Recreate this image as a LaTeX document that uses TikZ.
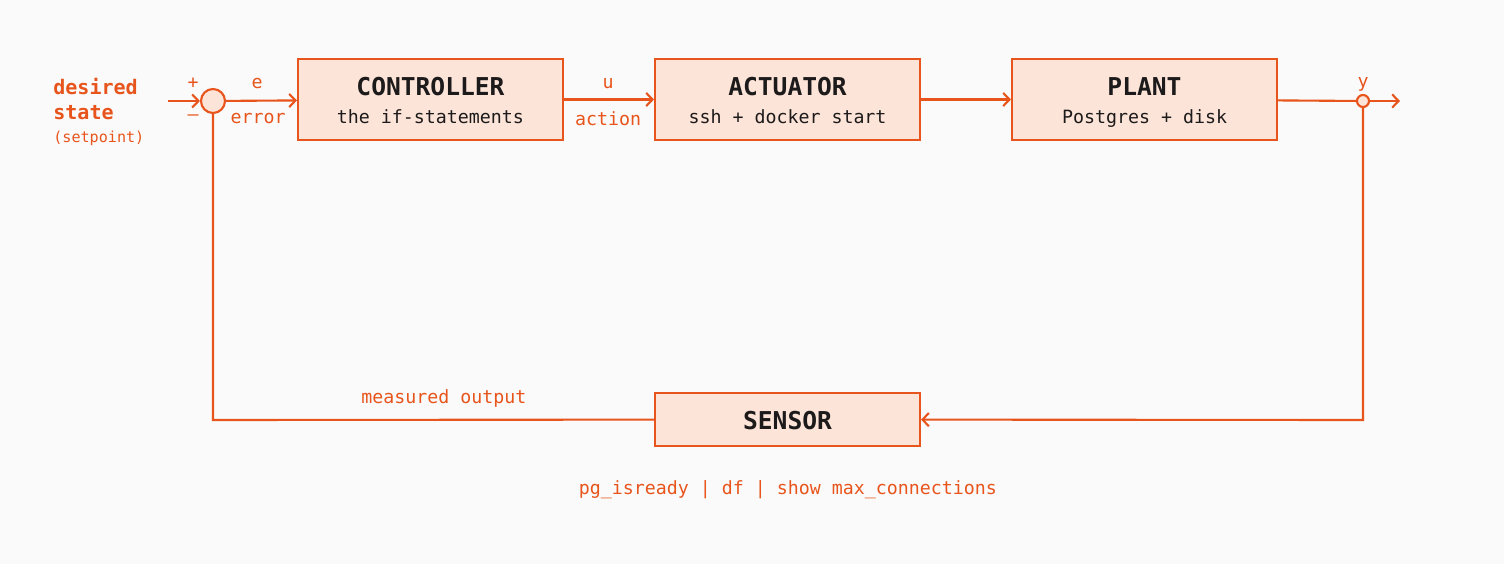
\documentclass[tikz,border=0pt]{standalone}
\usepackage{fontspec}
\setmonofont{DejaVu Sans Mono}
\usetikzlibrary{arrows.meta}
\definecolor{loop}{RGB}{232,85,28}
\definecolor{peach}{RGB}{253,228,216}
\definecolor{ink}{RGB}{28,26,26}
\definecolor{paper}{RGB}{250,250,250}
\begin{document}
\begin{tikzpicture}[x=0.02cm,y=-0.02cm,font=\ttfamily]
\tikzstyle{block}=[rectangle,draw=loop,fill=peach,line width=1.2pt,minimum width=5.3cm,minimum height=1.62cm,inner sep=0pt]
\tikzstyle{title}=[text=ink,anchor=base,inner sep=0pt,font=\ttfamily\bfseries\fontsize{14}{16}\selectfont]
\tikzstyle{sub}=[text=ink,anchor=base,inner sep=0pt,font=\ttfamily\fontsize{10.4}{12}\selectfont]
\tikzstyle{sig}=[draw=loop,line width=1.2pt,-{Straight Barb[length=3.6pt,width=7.5pt,line width=1.2pt]}]
\tikzstyle{wire}=[draw=loop,line width=1.2pt]
\tikzstyle{lbl}=[text=loop,font=\ttfamily\fontsize{10.4}{12}\selectfont,inner sep=0pt]
\fill[paper] (0,0) rectangle (1504,564);
\useasboundingbox (0,0) rectangle (1504,564);
% forward path
\node[block] (ctl) at (430.5,99.5) {};
\node[title] (ctlT) at (430.5,96) {CONTROLLER};
\node[sub] (ctlS) at (430.5,124) {the if-statements};
\node[block] (act) at (787.5,99.5) {};
\node[title] (actT) at (787.5,96) {ACTUATOR};
\node[sub] (actS) at (787.5,124) {ssh + docker start};
\node[block] (plant) at (1144.5,99.5) {};
\node[title] (plantT) at (1144.5,96) {PLANT};
\node[sub] (plantS) at (1144.5,124) {Postgres + disk};
\node[block,minimum height=1.06cm] (sensor) at (787.5,419.5) {};
\node[title] (sensorT) at (787.5,429.5) {SENSOR};
\node[circle,draw=loop,fill=peach,line width=1.2pt,minimum size=0.48cm,inner sep=0pt] (sum) at (213,101) {};
\node[circle,draw=loop,fill=peach,line width=1.2pt,minimum size=0.24cm,inner sep=0pt] (tap) at (1363,101) {};
\coordinate (in) at (168,101);
\coordinate (out) at (1400,101);
\coordinate (fbR) at (1363,420);
\coordinate (fbL) at (213,420);
% input
\node[anchor=west,inner sep=0pt,text=loop,align=left,font=\ttfamily\bfseries\fontsize{11.4}{14.5}\selectfont] (goal) at (53,99) {desired\\state};
\node[lbl,anchor=west,font=\ttfamily\fontsize{8.6}{10}\selectfont] (goalsub) at (53,138) {(setpoint)};
\path[sig] (in) -- (sum);
\node[lbl] (plus) at (193,83) {+};
\node[lbl] (minus) at (193,118) {\textendash};
\path[sig] (sum) -- (ctl);
\node[lbl] (e) at (257,84) {e};
\node[lbl] (err) at (258,119) {error};
\path[sig] (ctl) -- (act);
\node[lbl] (u) at (608,84) {u};
\node[lbl] (uact) at (608,119) {action};
\path[sig] (act) -- (plant);
\path[wire] (plant) -- (tap);
\path[sig] (tap) -- (out);
\node[lbl] (y) at (1363,84) {y};
% feedback
\path[sig] (tap) -- (fbR) -- (sensor);
\path[wire] (sensor) -- (fbL) -- (sum);
\node[lbl] (meas) at (444,398) {measured output};
\node[lbl] (cmds) at (788,490) {pg\_isready | df | show max\_connections};
\end{tikzpicture}
\end{document}
